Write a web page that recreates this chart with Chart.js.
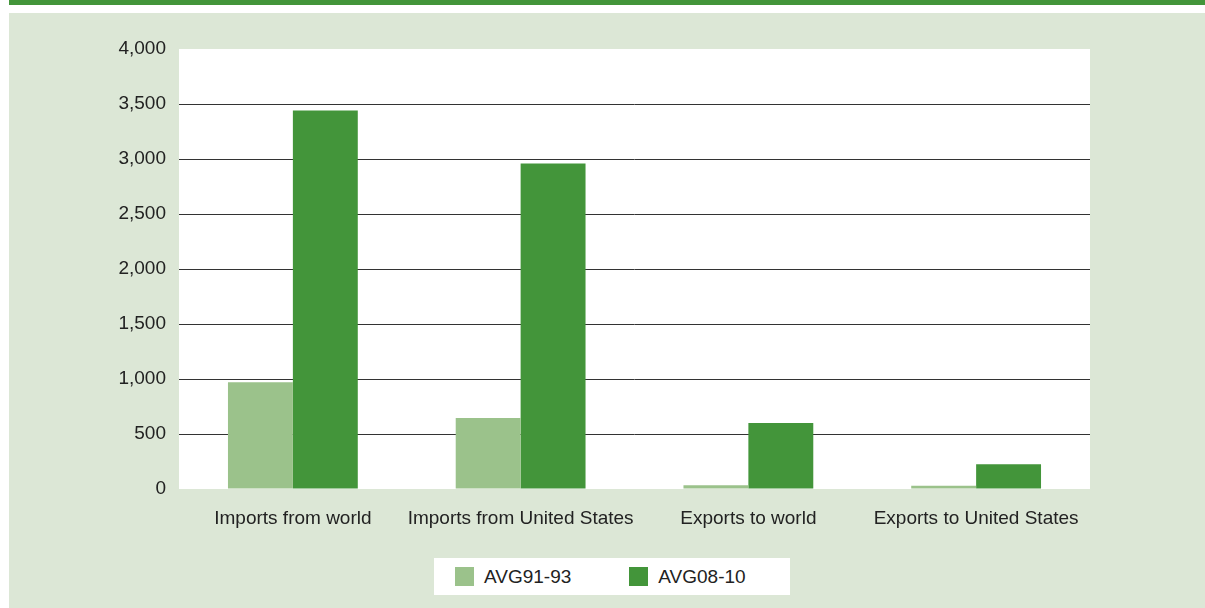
<!DOCTYPE html>
<html>
<head>
<meta charset="utf-8">
<script src="https://cdn.jsdelivr.net/npm/chart.js@4.4.1/dist/chart.umd.min.js"></script>
<style>
  html, body { margin: 0; padding: 0; background: #fff; }
  body { width: 1205px; height: 608px; position: relative; overflow: hidden; font-family: 'Liberation Sans', Arial, sans-serif; }
  #band { position: absolute; left: 9px; top: 0; width: 1196px; height: 5px; background: #43953a; }
  #panel { position: absolute; left: 9px; top: 13px; width: 1196px; height: 595px; background: #dce7d6; }
  #plotbg { position: absolute; left: 170px; top: 36px; width: 911px; height: 440px; background: #fff; }
  #chartBox { position: absolute; left: 0; top: 0; width: 1196px; height: 595px; }
  #legend { position: absolute; left: 425px; top: 545px; width: 356px; height: 37px; background: #fff;
            display: flex; align-items: center; font-size: 19px; color: #222; }
  #legend .item { display: flex; align-items: center; }
  #legend .swatch { width: 19px; height: 19px; margin-right: 10px; }
</style>
</head>
<body>
<div id="band"></div>
<div id="panel">
  <div id="plotbg"></div>
  <div id="chartBox"><canvas id="tradeChart"></canvas></div>
  <div id="legend"></div>
</div>
<script>
// categories and averages (million $)
const categories = ['Imports from world', 'Imports from United States', 'Exports to world', 'Exports to United States'];
const avg9193 = [970, 645, 35, 30];
const avg0810 = [3440, 2960, 600, 225];
const yTicks = [0, 500, 1000, 1500, 2000, 2500, 3000, 3500, 4000];

const lightGreen = '#9bc28b';
const darkGreen = '#43953a';

document.addEventListener('DOMContentLoaded', function () {
    var ctx = document.getElementById('tradeChart').getContext('2d');

    var chart = new Chart(ctx, {
        type: 'bar',
        data: {
            labels: categories,
            datasets: [
                { label: 'AVG91-93', data: avg9193, backgroundColor: lightGreen, borderWidth: 0 },
                { label: 'AVG08-10', data: avg0810, backgroundColor: darkGreen, borderWidth: 0 }
            ]
        },
        options: {
            responsive: true,
            maintainAspectRatio: false,
            animation: false,
            layout: { padding: { left: 0, right: 115, top: 36, bottom: 69 } },
            datasets: { bar: { categoryPercentage: 0.57, barPercentage: 1 } },
            plugins: {
                legend: { display: false },
                tooltip: { enabled: false }
            },
            scales: {
                x: {
                    grid: { display: false, drawTicks: false },
                    border: { display: false },
                    ticks: {
                        color: '#222',
                        padding: 18,
                        autoSkip: false,
                        maxRotation: 0,
                        font: { family: "'Liberation Sans', Arial, sans-serif", size: 19 }
                    },
                    afterFit: function (s) { s.height = 50; }
                },
                y: {
                    min: 0,
                    max: 4000,
                    afterBuildTicks: function (s) { s.ticks = yTicks.map(v => ({ value: v })); },
                    afterFit: function (s) { s.width = 170; },
                    grid: {
                        drawTicks: false,
                        color: function (c) {
                            var v = c.tick ? c.tick.value : 0;
                            return (v === 0 || v === 4000) ? 'rgba(0,0,0,0)' : '#333';
                        },
                        lineWidth: 1
                    },
                    border: { display: false },
                    ticks: {
                        color: '#222',
                        padding: 13,
                        font: { family: "'Liberation Sans', Arial, sans-serif", size: 19 },
                        callback: function (v) { return v.toLocaleString('en-US'); }
                    }
                }
            }
        }
    });

    // legend built from the datasets
    var legend = document.getElementById('legend');
    var offsets = [21, 58];
    chart.data.datasets.forEach(function (ds, i) {
        var item = document.createElement('div');
        item.className = 'item';
        item.style.marginLeft = offsets[i] + 'px';
        var sw = document.createElement('span');
        sw.className = 'swatch';
        sw.style.background = ds.backgroundColor;
        var txt = document.createElement('span');
        txt.textContent = ds.label;
        item.appendChild(sw);
        item.appendChild(txt);
        legend.appendChild(item);
    });
});
</script>
</body>
</html>
